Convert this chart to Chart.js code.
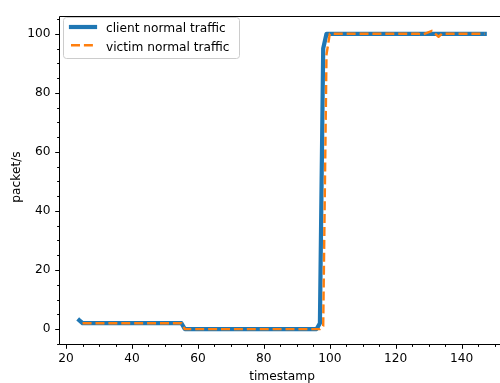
<!DOCTYPE html>
<html><head><meta charset="utf-8">
<script src="https://cdn.jsdelivr.net/npm/chart.js@4/dist/chart.umd.min.js"></script>
<style>html,body{margin:0;padding:0;overflow:hidden;background:#fff}canvas{display:block}</style>
</head><body>
<canvas id="c" width="505" height="383"></canvas>
<script>
// ---- data ----
const clientT = [24, 25, 55, 56, 96, 97, 98, 99, 147];
const clientV = [3, 2, 2, 0, 0, 2, 95, 100, 100];
const victimT = [25, 55, 56, 97, 98, 99, 100, 127, 128, 131, 133, 134, 147];
const victimV = [2, 2, 0, 0, 1, 93, 100, 100, 99.7, 101, 99, 100, 100];
const xTickLabels = [20, 40, 60, 80, 100, 120, 140];
const yTickLabels = [0, 20, 40, 60, 80, 100];
const seriesNames = ['client normal traffic', 'victim normal traffic'];
const xTitle = 'timestamp';
const yTitle = 'packet/s';

const FONT = 'DejaVu Sans';
const FS = 12.2;
const BLUE = '#1f77b4', ORANGE = '#ff7f0e';

const toPts = (t, v) => t.map((x, i) => ({x: x, y: v[i]}));

const decor = {
  id: 'decor',
  afterDatasetsDraw(chart) {
    const {ctx, chartArea: a, scales: {x, y}} = chart;
    ctx.save();
    ctx.strokeStyle = '#000';
    ctx.lineWidth = 1;
    const L = Math.round(a.left) + 0.5, T = Math.round(a.top) + 0.5, B = Math.round(a.bottom) + 0.5, R = a.right + 0.5;
    ctx.beginPath();
    ctx.moveTo(L, B); ctx.lineTo(L, T); ctx.lineTo(R, T);
    ctx.moveTo(L, B); ctx.lineTo(R, B);
    ctx.stroke();
    // ticks (major + minor)
    ctx.beginPath();
    for (let v = 20; v <= x.max; v += 5) {
      const px = Math.round(x.getPixelForValue(v)) + 0.5;
      const len = (v % 20 === 0) ? 4.3 : 2.4;
      ctx.moveTo(px, B); ctx.lineTo(px, B + len);
    }
    for (let v = -5; v <= y.max; v += 5) {
      if (v < y.min) continue;
      const py = Math.round(y.getPixelForValue(v)) + 0.5;
      const len = (v % 20 === 0) ? 4.3 : 2.4;
      ctx.moveTo(L, py); ctx.lineTo(L - len, py);
    }
    ctx.stroke();
    ctx.restore();
  },
  afterDraw(chart) {
    const {ctx} = chart;
    ctx.save();
    // axis titles
    ctx.fillStyle = '#000';
    ctx.font = FS + 'px "' + FONT + '"';
    ctx.textAlign = 'center';
    ctx.textBaseline = 'alphabetic';
    ctx.fillText(xTitle, 282, 379.5);
    ctx.save();
    ctx.translate(19.5, 177);
    ctx.rotate(-Math.PI / 2);
    ctx.fillText(yTitle, 0, 0);
    ctx.restore();
    // legend
    const bx = 63.5, by = 17.5, bw = 176, bh = 41, r = 3;
    ctx.beginPath();
    ctx.moveTo(bx + r, by);
    ctx.arcTo(bx + bw, by, bx + bw, by + bh, r);
    ctx.arcTo(bx + bw, by + bh, bx, by + bh, r);
    ctx.arcTo(bx, by + bh, bx, by, r);
    ctx.arcTo(bx, by, bx + bw, by, r);
    ctx.closePath();
    ctx.fillStyle = 'rgba(255,255,255,0.8)';
    ctx.fill();
    ctx.strokeStyle = '#cccccc';
    ctx.lineWidth = 1;
    ctx.stroke();
    const rows = [27, 45.3];
    const bases = [32.4, 50.7];
    chart.data.datasets.forEach((ds, i) => {
      ctx.beginPath();
      ctx.strokeStyle = ds.borderColor;
      ctx.lineWidth = ds.borderWidth;
      ctx.lineCap = ds.borderCapStyle;
      ctx.setLineDash(ds.borderDash || []);
      ctx.moveTo(71, rows[i]); ctx.lineTo(95, rows[i]);
      ctx.stroke();
      ctx.setLineDash([]);
      ctx.fillStyle = '#000';
      ctx.textAlign = 'left';
      ctx.textBaseline = 'alphabetic';
      ctx.fillText(ds.label, 106, bases[i]);
    });
    ctx.restore();
  }
};

new Chart(document.getElementById('c'), {
  type: 'line',
  data: {
    datasets: [
      {label: seriesNames[0], data: toPts(clientT, clientV), borderColor: BLUE, backgroundColor: BLUE,
       borderWidth: 4.2, borderCapStyle: 'square', borderJoinStyle: 'round', pointRadius: 0, tension: 0, order: 1, fill: false},
      {label: seriesNames[1], data: toPts(victimT, victimV), borderColor: ORANGE, backgroundColor: ORANGE,
       borderWidth: 2.4, borderDash: [9, 3.9], borderCapStyle: 'butt', borderJoinStyle: 'round', pointRadius: 0, tension: 0, order: 0, fill: false}
    ]
  },
  options: {
    responsive: false,
    animation: false,
    events: [],
    layout: {padding: {top: 10.5, left: 0, right: 0, bottom: 0}},
    plugins: {legend: {display: false}, tooltip: {enabled: false}},
    scales: {
      x: {
        type: 'linear', min: 17.85, max: 153.15,
        afterFit: s => { s.height = 39; },
        afterBuildTicks: s => { s.ticks = xTickLabels.map(v => ({value: v})); },
        grid: {display: false, drawTicks: false},
        border: {display: false},
        ticks: {padding: 8, color: '#000', font: {family: FONT, size: FS}, maxRotation: 0, autoSkip: false}
      },
      y: {
        type: 'linear', min: -5.05, max: 106.05,
        afterFit: s => { s.width = 59; },
        afterBuildTicks: s => { s.ticks = yTickLabels.map(v => ({value: v})); },
        grid: {display: false, drawTicks: false},
        border: {display: false},
        ticks: {padding: 8.6, color: '#000', font: {family: FONT, size: FS}, autoSkip: false}
      }
    }
  },
  plugins: [decor]
});
</script>
</body></html>
